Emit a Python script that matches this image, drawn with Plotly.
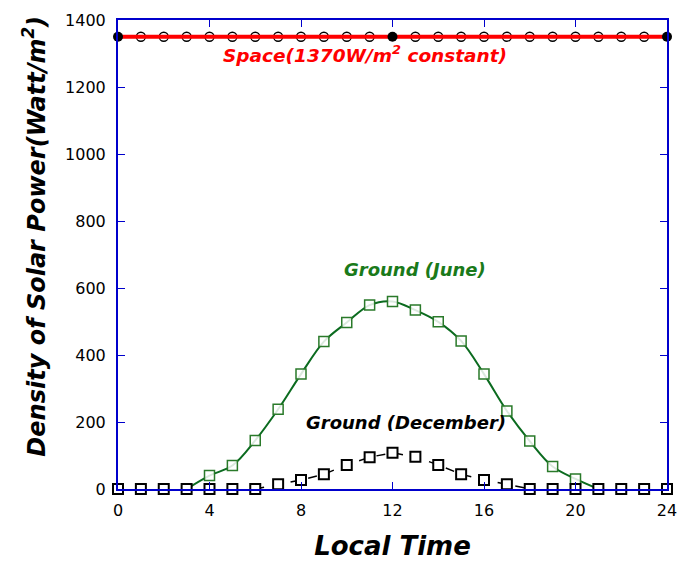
import plotly.graph_objects as go

hours = list(range(25))
space_power = [1350, 1350, 1350, 1350, 1350, 1350, 1350, 1350, 1350, 1350, 1350, 1350, 1350,
               1350, 1350, 1350, 1350, 1350, 1350, 1350, 1350, 1350, 1350, 1350, 1350]
space_open_hours = [h for h in hours if h not in (0, 12, 24)]
space_filled_hours = [0, 12, 24]

june_hours = [3, 4, 5, 6, 7, 8, 9, 10, 11, 12, 13, 14, 15, 16, 17, 18, 19, 20, 21]
june_power = [0, 40, 70, 145, 238, 343, 440, 497, 549, 560, 534, 499, 442, 343, 233, 143, 67, 30, 0]
june_marker_hours = june_hours[1:-1]
june_marker_power = june_power[1:-1]

dec_power = [0, 0, 0, 0, 0, 0, 0, 14, 27, 44, 72, 95, 108, 96, 72, 44, 27, 14, 0, 0, 0, 0, 0, 0, 0]
dec_line_hours = hours[6:19]
dec_line_power = dec_power[6:19]

x_ticks = [0, 4, 8, 12, 16, 20, 24]
y_ticks = [0, 200, 400, 600, 800, 1000, 1200, 1400]

FONT = "DejaVu Sans"
BLUE = "#0000cc"
GREEN = "#0b6b1f"

fig = go.Figure()

# Space: open circles, red line, filled dots
fig.add_trace(go.Scatter(
    x=space_open_hours, y=[space_power[h] for h in space_open_hours], mode="markers",
    marker=dict(symbol="circle", size=9, color="white", line=dict(color="black", width=1.3)),
    cliponaxis=False, showlegend=False))
fig.add_trace(go.Scatter(
    x=hours, y=space_power, mode="lines", line=dict(color="#ff0000", width=4),
    cliponaxis=False, showlegend=False))
fig.add_trace(go.Scatter(
    x=space_filled_hours, y=[space_power[h] for h in space_filled_hours], mode="markers",
    marker=dict(symbol="circle", size=10, color="black"),
    cliponaxis=False, showlegend=False))

# June
fig.add_trace(go.Scatter(
    x=june_hours, y=june_power, mode="lines", line=dict(color=GREEN, width=2, shape="spline"),
    cliponaxis=False, showlegend=False))
fig.add_trace(go.Scatter(
    x=june_marker_hours, y=june_marker_power, mode="markers",
    marker=dict(symbol="square", size=10, color="rgba(255,255,255,0.85)", line=dict(color="#2a7a2a", width=1.5)),
    cliponaxis=False, showlegend=False))

# December
fig.add_trace(go.Scatter(
    x=dec_line_hours, y=dec_line_power, mode="lines", line=dict(color="black", width=1.5, dash="dash"),
    cliponaxis=False, showlegend=False))
fig.add_trace(go.Scatter(
    x=hours, y=dec_power, mode="markers",
    marker=dict(symbol="square", size=10, color="white", line=dict(color="black", width=2)),
    cliponaxis=False, showlegend=False))

fig.add_annotation(x=10.8, y=1300, text="<b><i>Space(1370W/m<sup>2</sup> constant)</i></b>",
                   showarrow=False, font=dict(family=FONT, size=18.5, color="#ff0000"))
fig.add_annotation(x=13.0, y=655, text="<b><i>Ground (June)</i></b>",
                   showarrow=False, font=dict(family=FONT, size=18, color="#1a7a1a"))
fig.add_annotation(x=12.6, y=200, text="<b><i>Ground (December)</i></b>",
                   showarrow=False, font=dict(family=FONT, size=18, color="black"))
fig.add_annotation(xref="paper", x=-0.152, yref="y", y=755, textangle=-90,
                   xanchor="center", yanchor="middle",
                   text="<b><i>Density of Solar Power(Watt/m<sup>2</sup>)</i></b>",
                   showarrow=False, font=dict(family=FONT, size=24, color="black"))

fig.update_xaxes(range=[0, 24], tickvals=x_ticks, ticks="inside", ticklen=7, tickcolor=BLUE,
                 showline=True, linecolor=BLUE, linewidth=2, mirror="ticks", showgrid=False,
                 zeroline=False, tickfont=dict(family=FONT, size=16, color="black"),
                 ticklabelstandoff=6, automargin=False,
                 title=dict(text="<b><i>Local Time</i></b>", font=dict(family=FONT, size=26, color="black"),
                            standoff=18))
fig.update_yaxes(range=[0, 1400], tickvals=y_ticks, ticks="inside", ticklen=7, tickcolor=BLUE,
                 showline=True, linecolor=BLUE, linewidth=2, mirror="ticks", showgrid=False,
                 zeroline=False, tickfont=dict(family=FONT, size=16, color="black"),
                 ticklabelstandoff=7, automargin=False)

fig.update_layout(width=686, height=564, margin=dict(l=118, r=19, t=20, b=75),
                  plot_bgcolor="white", paper_bgcolor="white")

fig.write_html("out.html")
